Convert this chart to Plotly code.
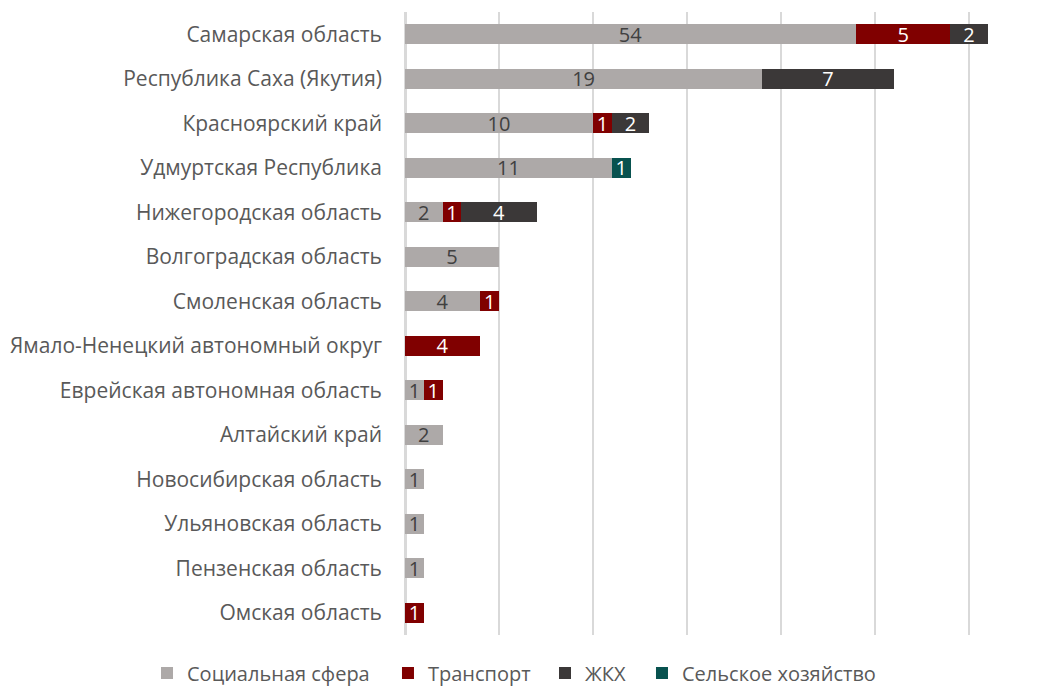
import plotly.graph_objects as go

regions = [
    "Самарская область",
    "Республика Саха (Якутия)",
    "Красноярский край",
    "Удмуртская Республика",
    "Нижегородская область",
    "Волгоградская область",
    "Смоленская область",
    "Ямало-Ненецкий автономный округ",
    "Еврейская автономная область",
    "Алтайский край",
    "Новосибирская область",
    "Ульяновская область",
    "Пензенская область",
    "Омская область",
]

# values (labels shown on bars)
social = [54, 19, 10, 11, 2, 5, 4, 0, 1, 2, 1, 1, 1, 0]
# drawn length of the social bars (the Samara bar is drawn shortened in the original, like a broken axis)
social_drawn = [24, 19, 10, 11, 2, 5, 4, 0, 1, 2, 1, 1, 1, 0]
transport = [5, 0, 1, 0, 1, 0, 1, 4, 1, 0, 0, 0, 0, 1]
housing = [2, 7, 2, 0, 4, 0, 0, 0, 0, 0, 0, 0, 0, 0]
agriculture = [0, 0, 0, 1, 0, 0, 0, 0, 0, 0, 0, 0, 0, 0]

series = [
    ("Социальная сфера", social_drawn, social, "#ADA9A8", "#404040"),
    ("Транспорт", transport, transport, "#800000", "#FFFFFF"),
    ("ЖКХ", housing, housing, "#3B3838", "#FFFFFF"),
    ("Сельское хозяйство", agriculture, agriculture, "#08524F", "#FFFFFF"),
]

FONT = "Open Sans"
legend_ids = ["legend", "legend2", "legend3", "legend4"]
legend_x = [-0.4336, -0.0286, 0.2353, 0.3983]

fig = go.Figure()
for (name, lengths, labels, color, tcolor), lid in zip(series, legend_ids):
    fig.add_trace(go.Bar(
        name=name,
        y=regions,
        x=[v if v else None for v in lengths],
        orientation="h",
        marker=dict(color=color, line=dict(width=0)),
        text=[str(v) if v else "" for v in labels],
        textposition="inside",
        insidetextanchor="middle",
        textangle=0,
        textfont=dict(family=FONT, size=20, color=tcolor),
        hoverinfo="skip",
        legend=lid,
        showlegend=True,
    ))

legend_style = dict(
    orientation="h",
    xref="paper", xanchor="left",
    yref="paper", y=-0.0610, yanchor="middle",
    font=dict(family=FONT, size=20, color="#595959"),
    itemwidth=30,
    bgcolor="rgba(0,0,0,0)",
    visible=True,
)

fig.update_layout(
    showlegend=True,
    barmode="stack",
    bargap=0.55,
    width=1053,
    height=688,
    margin=dict(l=405, r=53, t=12, b=53, autoexpand=False),
    paper_bgcolor="white",
    plot_bgcolor="white",
    uniformtext=dict(minsize=20, mode="show"),
    font=dict(family=FONT, color="#595959"),
    xaxis=dict(
        range=[0, 31.65],
        dtick=5,
        showgrid=True,
        gridcolor="#D9D9D9",
        gridwidth=1.5,
        zeroline=True,
        zerolinecolor="#D9D9D9",
        zerolinewidth=2.5,
        showticklabels=False,
        ticks="",
        automargin=False,
    ),
    yaxis=dict(
        autorange="reversed",
        showgrid=False,
        ticks="",
        ticklabelstandoff=22,
        automargin=False,
        tickfont=dict(family=FONT, size=21, color="#595959"),
    ),
)
for lid, lx in zip(legend_ids, legend_x):
    fig.update_layout({lid: dict(legend_style, x=lx)})

fig.write_html(
    "out.html",
    config={"displayModeBar": False},
    post_script="document.body.style.margin='0';",
)
